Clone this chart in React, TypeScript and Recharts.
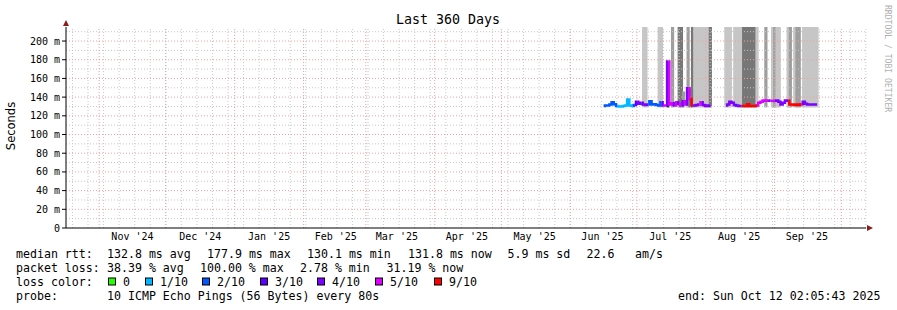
import React from "react"
import { Bar, ComposedChart, Line, ReferenceDot, ReferenceLine, XAxis, YAxis } from "recharts"

// days counted from the left edge of the graph (360 days before "end")
const monthStartDays = [14.91, 44.91, 75.91, 106.91, 134.91, 165.91, 195.91, 226.91, 256.91, 287.91, 318.91, 348.91]
const monthLabelDays = [29.9, 60.4, 91.4, 121.4, 148.9, 180.4, 210.9, 241.4, 271.9, 302.9, 333.4]
const monthLabels = ["Nov '24", "Dec '24", "Jan '25", "Feb '25", "Mar '25", "Apr '25", "May '25", "Jun '25", "Jul '25", "Aug '25", "Sep '25"]
const firstSunday = 2.91
const yTicks = [0, 20, 40, 60, 80, 100, 120, 140, 160, 180, 200]

// median rtt (ms) and loss bucket per day, two stretches of data
const seg1Start = 242
const seg1Median = [130.5, 131, 131, 132, 134.5, 132.5, 130.5, 130, 130, 130.5, 131, 137.5, 131, 130.5, 131.5, 135, 133, 134, 132, 131.5, 132, 135.5, 132, 132.5, 131.5, 131, 134.5, 131, 131, 178, 132, 133.5, 131, 134.5, 133, 131, 135.5, 132, 149.5, 138, 131, 131, 131.5, 132, 134.5, 131.5, 130.5, 131, 130.5]
const seg1Loss = [2, 2, 2, 2, 2, 2, 1, 1, 1, 1, 1, 1, 1, 2, 3, 4, 4, 3, 4, 4, 2, 2, 2, 2, 2, 2, 4, 5, 4, 5, 5, 4, 5, 4, 5, 4, 5, 4, 5, 9, 4, 4, 4, 5, 4, 4, 4, 4, 4]
const seg2Start = 297
const seg2Median = [131, 132, 135, 134, 131.5, 131, 130.5, 130.5, 130.5, 130.5, 132.5, 130.5, 130.5, 130.5, 131, 134, 135, 136.5, 136, 136.5, 136, 136, 136, 136.5, 135, 132, 134, 136.5, 136, 132, 132, 131.5, 132, 131.5, 132.5, 135, 133, 132, 132, 132, 132, 132]
const seg2Loss = [4, 4, 4, 4, 3, 4, 4, 9, 9, 9, 9, 9, 9, 9, 5, 5, 5, 5, 5, 4, 5, 5, 4, 4, 4, 4, 4, 4, 9, 9, 9, 9, 9, 9, 4, 4, 4, 4, 4, 4, 4, 4]

// smoke (ping spread) bars: day, shade level, top value
const smokeDays = [260, 261, 267, 268, 271, 273, 276, 277, 278, 280, 281, 282, 283, 284, 285, 286, 287, 288, 289, 290, 297, 298, 299, 301, 302, 303, 304, 305, 306, 307, 308, 309, 310, 311, 315, 318, 319, 320, 321, 325, 326, 328, 329, 330, 332, 333, 334, 335, 336, 337, 338]
const smokeLevel = [1, 1, 1, 1, 4, 2, 3, 3, 2, 2, 3, 3, 1, 1, 1, 1, 1, 1, 1, 3, 1, 1, 1, 1, 1, 1, 1, 3, 3, 3, 3, 3, 3, 1, 2, 1, 2, 1, 1, 1, 2, 1, 2, 2, 1, 1, 1, 1, 1, 1, 1]
const smokeTop = [215, 215, 215, 215, 178, 215, 215, 215, 146, 215, 151, 215, 215, 215, 215, 215, 215, 215, 215, 215, 215, 215, 215, 215, 215, 215, 215, 215, 215, 215, 215, 215, 215, 215, 215, 215, 215, 215, 215, 215, 215, 215, 215, 215, 215, 215, 215, 215, 215, 215, 215]

const lossColors: Record<number, string> = { 0: "#26ff00", 1: "#00b8ff", 2: "#0059ff", 3: "#5e00ff", 4: "#7e00ff", 5: "#dd00ff", 9: "#ff0000" }
const smokeColors = ["#ffffff", "#c6c6c6", "#9e9e9e", "#777777", "#222222"]

const legendLoss = [
    { key: 0, label: "0", x: 108.5 },
    { key: 1, label: "1/10", x: 145.5 },
    { key: 2, label: "2/10", x: 202.5 },
    { key: 3, label: "3/10", x: 260.5 },
    { key: 4, label: "4/10", x: 317.5 },
    { key: 5, label: "5/10", x: 375.5 },
    { key: 9, label: "9/10", x: 434.5 },
]

type Row = { day: number; smoke?: [number, number]; level?: number; [k: string]: any }

const buildData = () => {
    const rows: Record<number, Row> = {}
    const row = (d: number) => (rows[d] ??= { day: d })
    const runs: { key: string; color: string }[] = []
    const segs = [
        { start: seg1Start, med: seg1Median, loss: seg1Loss },
        { start: seg2Start, med: seg2Median, loss: seg2Loss },
    ]
    segs.forEach((s) => {
        let i = 0
        while (i < s.med.length) {
            let j = i
            while (j + 1 < s.med.length && s.loss[j + 1] === s.loss[i]) j++
            const key = `r${runs.length}`
            runs.push({ key, color: lossColors[s.loss[i]] })
            const end = Math.min(j + 1, s.med.length - 1)
            for (let k = i; k <= end; k++) row(s.start + k)[key] = s.med[k]
            i = j + 1
        }
    })
    smokeDays.forEach((d, i) => {
        const r = row(d)
        r.smoke = [129, smokeTop[i]]
        r.level = smokeLevel[i]
    })
    const data = Object.values(rows).sort((a, b) => a.day - b.day)
    return { data, runs }
}

const { data, runs } = buildData()
const weekDays = Array.from({ length: 52 }, (_, i) => firstSunday + 7 * i)
const mono = "'DejaVu Sans Mono', monospace"

// each smoke bar spans a bit more than one day's width, centred on its day
const SmokeBar = (p: any) => {
    const level = p.payload?.level
    if (p.height == null || level == null) return null
    const cx = p.x + p.width / 2
    return <rect x={cx - 1.6} y={p.y} width={3.2} height={p.height} fill={smokeColors[level]} />
}

const App = () => {
    return (
        <div style={{ position: "absolute", left: 0, top: 0, width: 897, height: 310, background: "#fff" }}>
            <ComposedChart width={897} height={310} data={data} margin={{ top: 27, right: 31, left: 0, bottom: 62 }}>
                <XAxis
                    dataKey="day"
                    type="number"
                    domain={[0, 360]}
                    ticks={monthLabelDays}
                    interval={0}
                    allowDataOverflow
                    tickFormatter={(v: number) => monthLabels[monthLabelDays.indexOf(v)] ?? ""}
                    tickLine={false}
                    tickSize={3}
                    tickMargin={2}
                    height={20}
                    axisLine={{ stroke: "#000" }}
                    tick={{ fontFamily: mono, fontSize: 10, fill: "#000" }}
                />
                <YAxis
                    type="number"
                    domain={[0, 215]}
                    ticks={yTicks}
                    allowDataOverflow
                    width={66}
                    tickSize={4}
                    tickMargin={2}
                    tickFormatter={(v: number) => (v === 0 ? "0" : `${v} m`)}
                    axisLine={{ stroke: "#000" }}
                    tickLine={{ stroke: "#000" }}
                    tick={{ fontFamily: mono, fontSize: 10, fill: "#000" }}
                />
                <Bar dataKey="smoke" barSize={3} isAnimationActive={false} shape={SmokeBar} />
                {weekDays.map((d) => (
                    <ReferenceLine key={`w${d}`} x={d} stroke="#c8c8c8" strokeDasharray="1 2" />
                ))}
                {[10, 30, 50, 70, 90, 110, 130, 150, 170, 190, 210].map((v) => (
                    <ReferenceLine key={`h${v}`} y={v} stroke="#c8c8c8" strokeDasharray="1 2" />
                ))}
                {monthStartDays.map((d) => (
                    <ReferenceLine key={`m${d}`} x={d} stroke="#f0a0a0" strokeDasharray="1 2" />
                ))}
                {yTicks.slice(1).map((v) => (
                    <ReferenceLine key={`y${v}`} y={v} stroke="#f0a0a0" strokeDasharray="1 2" />
                ))}
                {runs.map((r) => (
                    <Line key={r.key} type="step" dataKey={r.key} stroke={r.color} strokeWidth={2.5} dot={false} connectNulls={false} isAnimationActive={false} />
                ))}
                <ReferenceDot
                    x={360}
                    y={0}
                    r={0}
                    ifOverflow="visible"
                    shape={(p: any) => <path d={`M${p.cx + 1},${p.cy - 3} L${p.cx + 7},${p.cy} L${p.cx + 1},${p.cy + 3} Z`} fill="#8b1a1a" />}
                />
                <ReferenceDot
                    x={0}
                    y={215}
                    r={0}
                    ifOverflow="visible"
                    shape={(p: any) => <path d={`M${p.cx - 3},${p.cy - 1} L${p.cx},${p.cy - 7} L${p.cx + 3},${p.cy - 1} Z`} fill="#8b1a1a" />}
                />
            </ComposedChart>

            <svg width={897} height={310} style={{ position: "absolute", left: 0, top: 0, pointerEvents: "none" }}>
                <text x={448} y={24} textAnchor="middle" fontFamily={mono} fontSize={13.3} fill="#000">Last 360 Days</text>
                <text x={15} y={126} textAnchor="middle" transform="rotate(-90 15 126)" fontFamily="'DejaVu Sans', sans-serif" fontSize={11.5} fill="#000">Seconds</text>
                <text x={885} y={5} transform="rotate(90 885 5)" fontFamily={mono} fontSize={8.1} fill="#b0b0b0">RRDTOOL / TOBI OETIKER</text>

                <g fontFamily={mono} fontSize={11.6} fill="#000">
                    <text x={16} y={258}>median rtt:</text>
                    <text x={107} y={258}>132.8 ms avg</text>
                    <text x={207} y={258}>177.9 ms max</text>
                    <text x={307} y={258}>130.1 ms min</text>
                    <text x={408} y={258}>131.8 ms now</text>
                    <text x={507.5} y={258}>5.9 ms sd</text>
                    <text x={586.5} y={258}>22.6</text>
                    <text x={635} y={258}>am/s</text>

                    <text x={16} y={272}>packet loss:</text>
                    <text x={107} y={272}>38.39 % avg</text>
                    <text x={200} y={272}>100.00 % max</text>
                    <text x={300} y={272}>2.78 % min</text>
                    <text x={386.5} y={272}>31.19 % now</text>

                    <text x={16} y={286}>loss color:</text>
                    {legendLoss.map((l) => (
                        <g key={l.key}>
                            <rect x={l.x} y={278} width={7} height={7} fill={lossColors[l.key]} stroke="#000" strokeWidth={1} />
                            <text x={l.x + 14.5} y={286}>{l.label}</text>
                        </g>
                    ))}

                    <text x={16} y={300}>probe:</text>
                    <text x={107} y={300}>10 ICMP Echo Pings (56 Bytes) every 80s</text>
                    <text x={678} y={300}>end: Sun Oct 12 02:05:43 2025</text>
                </g>
            </svg>
        </div>
    )
}

export default App
